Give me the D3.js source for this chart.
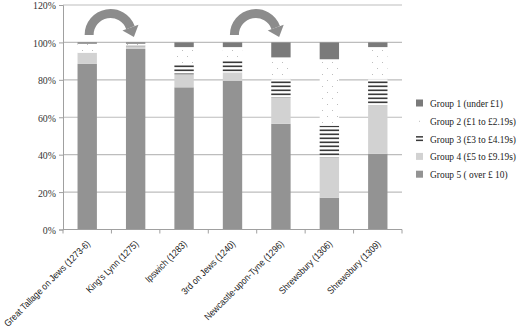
<!DOCTYPE html>
<html><head><meta charset="utf-8">
<script src="https://cdn.jsdelivr.net/npm/d3@7"></script>
<style>body{margin:0;background:#fff}svg{display:block}
svg text.serif{font-family:"Liberation Serif","DejaVu Serif","Noto Serif",serif}
svg text.sans{font-family:"Liberation Sans",Arial,sans-serif}
</style>
</head><body>
<svg id="c" width="520" height="328"></svg>
<script>
const categories = ["Great Tallage on Jews (1273-6)","King's Lynn (1275)","Ipswich (1283)","3rd on Jews (1240)","Newcastle-upon-Tyne (1296)","Shrewsbury (1306)","Shrewsbury (1309)"];
const seriesNames = ["Group 1 (under £1)","Group 2 (£1 to £2.19s)","Group 3 (£3 to £4.19s)","Group 4 (£5 to £9.19s)","Group 5 ( over £ 10)"];
const group5 = [88.5, 96.5, 76.0, 79.5, 56.5, 17.0, 40.5];
const group4 = [6.0, 1.5, 7.0, 4.5, 14.0, 21.5, 26.0];
const group3 = [0.0, 0.4, 5.3, 6.5, 10.0, 17.0, 14.0];
const group2 = [4.8, 0.9, 9.2, 7.0, 11.5, 35.5, 17.0];
const group1 = [0.7, 0.7, 2.5, 2.5, 8.0, 9.0, 2.5];
const yTicks = [0, 20, 40, 60, 80, 100, 120];
const arrowPairs = [[0,1],[3,4]];

const svg = d3.select("#c");
const defs = svg.append("defs");
const p2 = defs.append("pattern").attr("id","dots").attr("patternUnits","userSpaceOnUse").attr("width",10).attr("height",12);
p2.append("rect").attr("width",10).attr("height",12).attr("fill","#fff");
p2.append("rect").attr("x",2).attr("y",2).attr("width",1).attr("height",1).attr("fill","#bdbdbd");
p2.append("rect").attr("x",7).attr("y",8).attr("width",1).attr("height",1).attr("fill","#bdbdbd");
const p3 = defs.append("pattern").attr("id","stripes").attr("patternUnits","userSpaceOnUse").attr("width",8).attr("height",4);
p3.append("rect").attr("width",8).attr("height",4).attr("fill","#fff");
p3.append("rect").attr("y",1.5).attr("width",8).attr("height",1.6).attr("fill","#3a3a3a");

const fills = ["#7a7a7a","url(#dots)","url(#stripes)","#d2d2d2","#939393"];

function fit(sel, maxLen){
  const lens = sel.nodes().map(n=>n.getComputedTextLength());
  const f = Math.min(1, maxLen/d3.max(lens));
  if(f<1) sel.each(function(d,i){ d3.select(this).attr("textLength",lens[i]*f).attr("lengthAdjust","spacingAndGlyphs"); });
}

const x = d3.scaleBand().domain(categories).range([63, 402]).paddingInner(0.6).paddingOuter(0.3);
const y = d3.scaleLinear().domain([0,120]).range([229.5, 5]);

svg.append("g").selectAll("line").data(yTicks.filter(d=>d>0)).join("line")
  .attr("x1",63).attr("x2",402).attr("y1",d=>y(d)).attr("y2",d=>y(d))
  .attr("stroke","#bdbdbd").attr("stroke-width",1.2);

const ya = svg.append("g").attr("transform","translate(63,0)")
  .call(d3.axisLeft(y).tickValues(yTicks).tickFormat(d=>d+"%").tickSize(4).tickPadding(3));
ya.attr("font-family",null).attr("font-size",null);
ya.select(".domain").attr("stroke","#a0a0a0");
ya.selectAll(".tick line").attr("stroke","#a0a0a0");
const yt = ya.selectAll("text").attr("class","serif").style("font-size","11px").attr("fill","#333").attr("dy","0.36em");
fit(yt, 23);

const table = categories.map((c,i)=>({cat:c, g5:group5[i], g4:group4[i], g3:group3[i], g2:group2[i], g1:group1[i]}));
const keys = ["g5","g4","g3","g2","g1"];
const keyFill = {g1:fills[0], g2:fills[1], g3:fills[2], g4:fills[3], g5:fills[4]};
const stack = d3.stack().keys(keys)(table);
svg.append("g").selectAll("g").data(stack).join("g")
  .attr("fill",d=>keyFill[d.key])
  .selectAll("rect").data(d=>d).join("rect")
  .attr("x",d=>x(d.data.cat)).attr("width",x.bandwidth())
  .attr("y",d=>y(d[1])).attr("height",d=>Math.max(0,y(d[0])-y(d[1])));

svg.append("line").attr("x1",63).attr("x2",402).attr("y1",y(0)).attr("y2",y(0)).attr("stroke","#a0a0a0");
const bounds = d3.range(categories.length+1).map(i=>63 + (i)*x.step());
svg.append("g").selectAll("line").data(bounds).join("line")
  .attr("x1",d=>d).attr("x2",d=>d).attr("y1",y(0)).attr("y2",y(0)+4).attr("stroke","#a0a0a0");
const xl = svg.append("g").selectAll("text").data(categories).join("text")
  .attr("class","sans")
  .attr("transform",d=>`translate(${x(d)+x.bandwidth()/2+3.5},${y(0)+15}) rotate(-45)`)
  .attr("text-anchor","end")
  .style("font-size","9.5px").attr("fill","#1a1a1a").text(d=>d);
fit(xl, 117);

const arrowG = svg.append("g").attr("fill","#8c8c8c");
arrowPairs.forEach(([a,b])=>{
  const xa = x(categories[a])+x.bandwidth()/2, xb = x(categories[b])+x.bandwidth()/2;
  const cx = (xa+xb)/2 - 1, cy = y(100) - 7.5;
  const r = x.step()*0.44, w = 9;
  const endAng = 20*Math.PI/180;
  const arc = d3.arc().innerRadius(r-w/2).outerRadius(r+w/2)
    .startAngle(-Math.PI/2).endAngle(Math.PI/2 - endAng);
  arrowG.append("path").attr("transform",`translate(${cx},${cy})`).attr("d",arc());
  const px = cx + r*Math.cos(endAng), py = cy - r*Math.sin(endAng);
  const nx = Math.cos(endAng), ny = -Math.sin(endAng);
  const tx = Math.sin(endAng), ty = Math.cos(endAng);
  const hw = 8.5, hl = 10;
  arrowG.append("path").attr("d",`M${px+nx*hw},${py+ny*hw} L${px-nx*hw},${py-ny*hw} L${px+tx*hl},${py+ty*hl} Z`);
});

const lg = svg.append("g").attr("transform","translate(416,103)");
const items = lg.selectAll("g").data(seriesNames).join("g").attr("transform",(d,i)=>`translate(0,${i*17.8})`);
items.each(function(d,i){
  const g = d3.select(this);
  if(i===1){ g.append("rect").attr("x",3).attr("y",0).attr("width",1).attr("height",1).attr("fill","#bdbdbd"); }
  else if(i===2){
    g.append("rect").attr("x",0).attr("y",-2.5).attr("width",7).attr("height",1.5).attr("fill","#3a3a3a");
    g.append("rect").attr("x",0).attr("y",1).attr("width",7).attr("height",1.5).attr("fill","#3a3a3a");
  } else {
    g.append("rect").attr("x",0).attr("y",-3.5).attr("width",7).attr("height",7).attr("fill",fills[i]);
  }
  g.append("text").attr("class","serif").attr("x",0).attr("y",4)
    .style("font-size","10.5px").attr("fill","#222").text(d);
});
// compress legend labels horizontally so the longest spans the reference width
const lt = lg.selectAll("text");
const lmax = d3.max(lt.nodes(), n=>n.getComputedTextLength());
const lf = Math.min(1, 86/lmax);
lt.attr("transform",`translate(14,0) scale(${lf},1)`);
</script>
</body></html>
